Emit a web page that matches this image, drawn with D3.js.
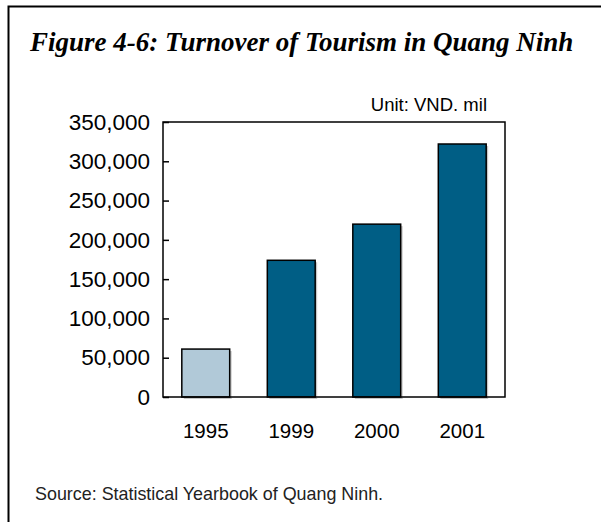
<!DOCTYPE html>
<html>
<head>
<meta charset="utf-8">
<script src="https://cdn.jsdelivr.net/npm/d3@7"></script>
<style>
	body { margin: 0; background: #fff; }
	svg { display: block; }
</style>
</head>
<body>
<svg id="chart" width="601" height="522"></svg>
<script>

	// Data
	// ==============================================

	var years = ['1995', '1999', '2000', '2001'];
	var turnover = [61000, 174000, 220000, 322000];
	var yTicks = [0, 50000, 100000, 150000, 200000, 250000, 300000, 350000];

	var svg = d3.select('#chart');

	var plot = { left: 163, top: 122, right: 505, bottom: 397 };

	// Frame + texts
	// ==============================================

	svg.append('path')
		.attr('d', 'M8.5,530V6.5H610')
		.attr('fill', 'none')
		.attr('stroke', '#000')
		.attr('stroke-width', 2);

	svg.append('text')
		.attr('x', 30)
		.attr('y', 51)
		.attr('font-family', '"Liberation Serif", "Times New Roman", serif')
		.attr('font-weight', 'bold')
		.attr('font-style', 'italic')
		.attr('font-size', 27)
		.text('Figure 4-6: Turnover of Tourism in Quang Ninh');

	svg.append('text')
		.attr('x', plot.right - 18)
		.attr('y', 111)
		.attr('text-anchor', 'end')
		.attr('font-family', '"Liberation Sans", Arial, sans-serif')
		.attr('font-size', 18.5)
		.text('Unit: VND. mil');

	svg.append('text')
		.attr('x', 35)
		.attr('y', 500)
		.attr('font-family', '"Liberation Sans", Arial, sans-serif')
		.attr('font-size', 17.9)
		.attr('fill', '#222')
		.text('Source: Statistical Yearbook of Quang Ninh.');

	// Scales
	// ==============================================

	var xScale = d3.scaleBand()
		.domain(years)
		.range([plot.left, plot.right])
		.paddingInner(0.44)
		.paddingOuter(0.22);

	var yScale = d3.scaleLinear()
		.domain([0, 350000])
		.range([plot.bottom, plot.top]);

	// Bars (with a faint shadow like the original)
	// ==============================================

	var bars = svg.append('g');

	bars.selectAll('rect.shadow')
		.data(turnover)
		.enter().append('rect')
			.attr('class', 'shadow')
			.attr('x', function(d, i){ return xScale(years[i]) + 2; })
			.attr('y', function(d){ return yScale(d) + 2; })
			.attr('width', xScale.bandwidth())
			.attr('height', function(d){ return plot.bottom - yScale(d); })
			.attr('fill', '#c8c8c8');

	bars.selectAll('rect.bar')
		.data(turnover)
		.enter().append('rect')
			.attr('class', 'bar')
			.attr('x', function(d, i){ return xScale(years[i]); })
			.attr('y', function(d){ return yScale(d); })
			.attr('width', xScale.bandwidth())
			.attr('height', function(d){ return plot.bottom - yScale(d); })
			.attr('fill', function(d, i){ return i === 0 ? '#b1c9d8' : '#005e85'; })
			.attr('stroke', '#000')
			.attr('stroke-width', 1.5);

	// Plot box
	// ==============================================

	svg.append('rect')
		.attr('x', plot.left)
		.attr('y', plot.top)
		.attr('width', plot.right - plot.left)
		.attr('height', plot.bottom - plot.top)
		.attr('fill', 'none')
		.attr('stroke', '#000')
		.attr('stroke-width', 1.5);

	// Axes
	// ==============================================

	var yAxis = d3.axisLeft(yScale)
		.tickValues(yTicks)
		.tickFormat(d3.format(','))
		.tickSize(-6)
		.tickPadding(13);

	var gy = svg.append('g')
		.attr('transform', 'translate(' + plot.left + ',0)')
		.call(yAxis);

	gy.select('.domain').remove();
	gy.selectAll('line').attr('stroke', '#000').attr('stroke-width', 1.5);
	gy.selectAll('text')
		.attr('font-family', '"Liberation Sans", Arial, sans-serif')
		.attr('font-size', 22.5)
		.attr('fill', '#000');

	var xAxis = d3.axisBottom(xScale)
		.tickSize(0)
		.tickPadding(26);

	var gx = svg.append('g')
		.attr('transform', 'translate(0,' + plot.bottom + ')')
		.call(xAxis);

	gx.select('.domain').remove();
	gx.selectAll('text')
		.attr('font-family', '"Liberation Sans", Arial, sans-serif')
		.attr('font-size', 20.5)
		.attr('fill', '#000');

</script>
</body>
</html>
